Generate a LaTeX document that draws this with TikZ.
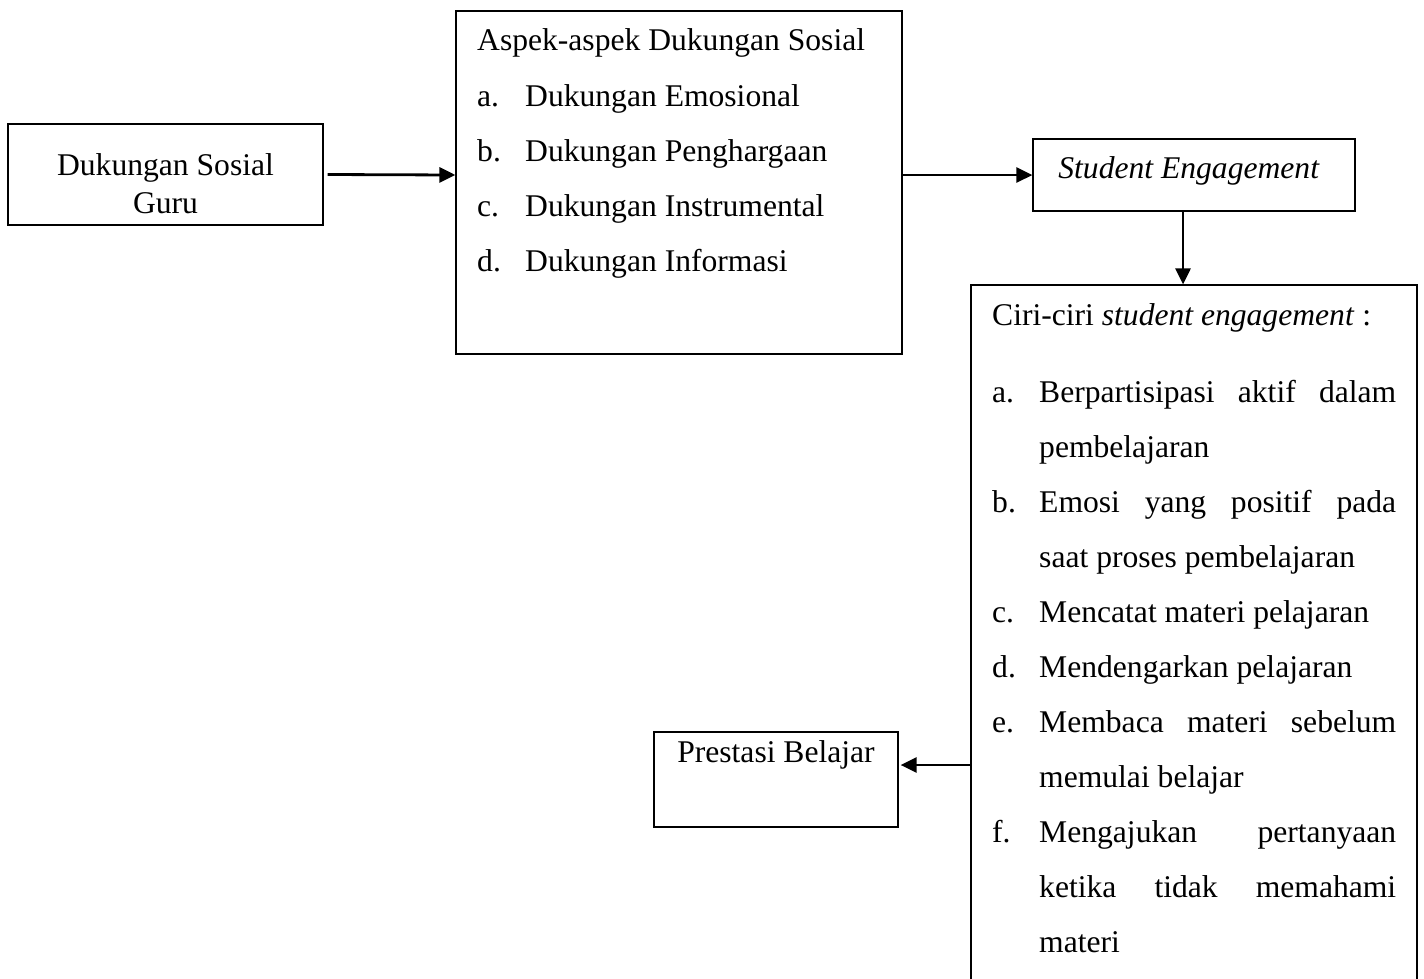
\documentclass[tikz,border=0pt]{standalone}
\usepackage{fontspec}
\setmainfont{Liberation Serif}
\usetikzlibrary{arrows.meta}
\tikzset{
  box/.style={draw, line width=1.2pt, rectangle, inner sep=0pt},
  txt/.style={inner sep=0pt, anchor=base west, font=\fontsize{31.6}{38}\selectfont},
  ctxt/.style={inner sep=0pt, anchor=base, font=\fontsize{31.6}{38}\selectfont},
  conn/.style={line width=2.8pt, -{Triangle[length=16pt,width=15pt]}},
}
\begin{document}
\begin{tikzpicture}[x=1pt,y=-1pt]
\useasboundingbox (0,0) rectangle (1424,978);
\clip (0,0) rectangle (1424,978);
% boxes
\node[box, minimum width=315pt, minimum height=101pt] (b1) at (165.5,174.5) {};
\node[box, minimum width=446pt, minimum height=343pt] (b2) at (679,182.5) {};
\node[box, minimum width=322pt, minimum height=72pt] (b3) at (1194,175) {};
\node[box, minimum width=446pt, minimum height=730pt] (b4) at (1194,650) {};
\node[box, minimum width=244pt, minimum height=95pt] (b5) at (776,779.5) {};
% box 1 text
\node[ctxt] (t1a) at (165.5,175) {Dukungan Sosial};
\node[ctxt] (t1b) at (165.5,213) {Guru};
% box 2 text
\node[txt] (t2h) at (477,50) {Aspek-aspek Dukungan Sosial};
\node[txt] (t2al) at (477,106) {a.};
\node[txt] (t2a) at (525,106) {Dukungan Emosional};
\node[txt] (t2bl) at (477,161) {b.};
\node[txt] (t2b) at (525,161) {Dukungan Penghargaan};
\node[txt] (t2cl) at (477,216) {c.};
\node[txt] (t2c) at (525,216) {Dukungan Instrumental};
\node[txt] (t2dl) at (477,271) {d.};
\node[txt] (t2d) at (525,271) {Dukungan Informasi};
% box 3 text
\node[ctxt] (t3) at (1189,178) {\textit{Student Engagement}};
% box 4 text
\node[txt] (t4h) at (992,325) {Ciri-ciri \textit{student engagement} :};
\node[txt] (t4al) at (992,402) {a.};
\node[txt] (t4a1) at (1039,402) {\makebox[357pt][s]{Berpartisipasi aktif dalam}};
\node[txt] (t4a2) at (1039,457) {pembelajaran};
\node[txt] (t4bl) at (992,512) {b.};
\node[txt] (t4b1) at (1039,512) {\makebox[357pt][s]{Emosi yang positif pada}};
\node[txt] (t4b2) at (1039,567) {saat proses pembelajaran};
\node[txt] (t4cl) at (992,622) {c.};
\node[txt] (t4c) at (1039,622) {Mencatat materi pelajaran};
\node[txt] (t4dl) at (992,677) {d.};
\node[txt] (t4d) at (1039,677) {Mendengarkan pelajaran};
\node[txt] (t4el) at (992,732) {e.};
\node[txt] (t4e1) at (1039,732) {\makebox[357pt][s]{Membaca materi sebelum}};
\node[txt] (t4e2) at (1039,787) {memulai belajar};
\node[txt] (t4fl) at (992,842) {f.};
\node[txt] (t4f1) at (1039,842) {\makebox[357pt][s]{Mengajukan pertanyaan}};
\node[txt] (t4f2) at (1039,897) {\makebox[357pt][s]{ketika tidak memahami}};
\node[txt] (t4f3) at (1039,952) {materi};
% box 5 text
\node[ctxt] (t5) at (776,762) {Prestasi Belajar};
% connectors
\coordinate (y1) at (0,175);
\coordinate (x3) at (1183,0);
\coordinate (y4) at (0,765);
\draw[conn] ([xshift=4pt]b1.east) -- (y1 -| b2.west);
\draw[conn] (y1 -| b2.east) -- (b3.west);
\draw[conn] (x3 |- b3.south) -- (x3 |- b4.north);
\draw[conn] (y4 -| b4.west) -- ([xshift=2pt]y4 -| b5.east);
\end{tikzpicture}
\end{document}
